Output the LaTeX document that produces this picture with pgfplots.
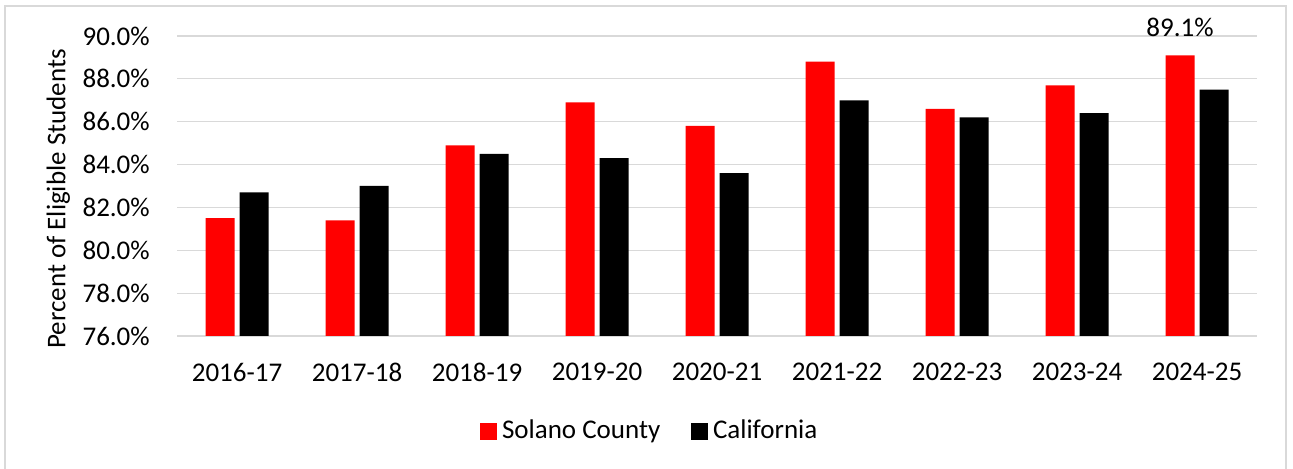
\documentclass[border=0pt]{standalone}
\usepackage{fontspec}
\setmainfont{Carlito}
\usepackage{pgfplots}
\pgfplotsset{compat=1.18}
\definecolor{solano}{RGB}{255,0,0}
\definecolor{gridgray}{RGB}{217,217,217}
\definecolor{framegray}{RGB}{217,217,217}

\pgfplotsset{
  sqlegend/.style={legend image code/.code={%
    \fill[##1] (0pt,-6.375pt) rectangle (12.75pt,6.375pt);
    \path (14.5pt,0pt);}},
}

\begin{document}
\begin{tikzpicture}
\fontsize{20.25}{24}\selectfont
\useasboundingbox (0,0) rectangle (969.75pt,351pt);
% chart frame
\draw[framegray, line width=1.1pt] (3.75pt,-3pt) -- (3.75pt,346.5pt) -- (964.5pt,346.5pt) -- (964.5pt,-3pt);
\begin{axis}[
  at={(132.75pt,99pt)}, anchor=south west,
  width=810pt, height=225pt, scale only axis,
  font=\fontsize{20.25}{24}\selectfont,
  /pgf/number format/assume math mode=true,
  xmin=-0.5, xmax=8.5, ymin=76, ymax=90,
  ytick={76,78,...,90},
  xtick={0,...,8},
  xticklabels={2016-17,2017-18,2018-19,2019-20,2020-21,2021-22,2022-23,2023-24,2024-25},
  yticklabel={\pgfmathprintnumber[fixed,fixed zerofill,precision=1]{\tick}\%},
  ymajorgrids, grid style={gridgray, line width=0.8pt},
  axis line style={draw=none},
  major tick length=0pt, tick style={draw=none},
  yticklabel style={xshift=-13.5pt},
  xticklabel style={yshift=-13.5pt},
  every axis y label/.style={at={(axis description cs:-0.110,0.457)}, rotate=90, anchor=center},
  ylabel={Percent of Eligible Students},
  ybar, bar width=21.75pt,
  legend style={at={(axis description cs:0.438,-0.317)}, anchor=center, draw=none, fill=none,
    legend columns=2, /tikz/every even column/.append style={column sep=21pt},
    font=\fontsize{20.25}{24}\selectfont},
]
\addplot[fill=solano, draw=none, bar shift=-12.75pt, sqlegend]
  coordinates {(0,81.5) (1,81.4) (2,84.9) (3,86.9) (4,85.8) (5,88.8) (6,86.6) (7,87.7) (8,89.1)};
\addlegendentry{Solano County}
\addplot[fill=black, draw=none, bar shift=12.75pt, sqlegend]
  coordinates {(0,82.7) (1,83.0) (2,84.5) (3,84.3) (4,83.6) (5,87.0) (6,86.2) (7,86.4) (8,87.5)};
\addlegendentry{California}
% value label on the 2024-25 Solano bar
\addplot[draw=none, fill=none, bar shift=-12.75pt, forget plot,
  nodes near coords={\pgfmathprintnumber[fixed,fixed zerofill,precision=1]{\pgfplotspointmeta}\%},
  nodes near coords style={yshift=7pt, font=\fontsize{20.25}{24}\selectfont}]
  coordinates {(8,89.1)};
\end{axis}
\end{tikzpicture}
\end{document}
